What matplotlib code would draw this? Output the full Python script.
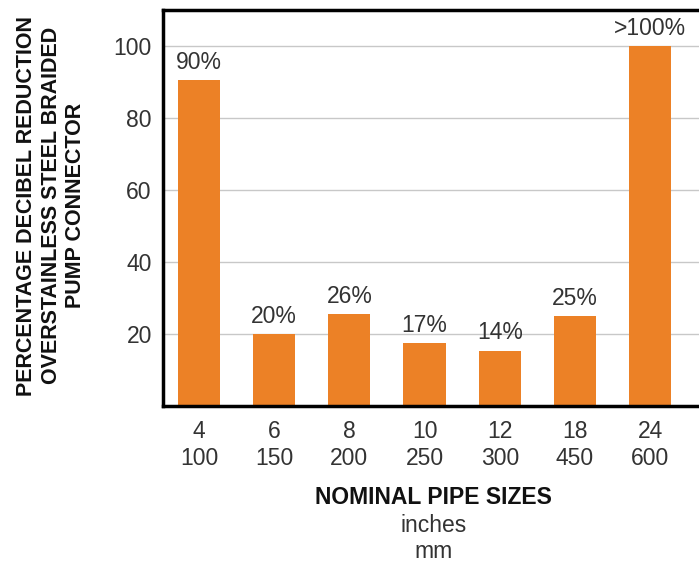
import matplotlib.pyplot as plt

sizes_in = ["4", "6", "8", "10", "12", "18", "24"]
sizes_mm = ["100", "150", "200", "250", "300", "450", "600"]
reduction = [90.5, 20, 25.5, 17.5, 15.3, 25, 100]
bar_labels = ["90%", "20%", "26%", "17%", "14%", "25%", ">100%"]

plt.rcParams['font.family'] = ['Liberation Sans', 'DejaVu Sans']
narrow = ['Liberation Sans Narrow', 'Liberation Sans', 'DejaVu Sans']

fig = plt.figure(figsize=(6.99, 5.67), dpi=100)
ax = fig.add_axes([0.233, 0.284, 0.767, 0.698])

x = list(range(len(sizes_in)))
ax.bar(x, reduction, width=0.56, color="#EC8126", zorder=2)

for xi, v, lab in zip(x, reduction, bar_labels):
    ax.text(xi, v + 1.8, lab, ha="center", va="bottom", fontsize=16.5, color="#333333")

ax.set_ylim(0, 110)
ax.set_xlim(-0.48, len(x) - 1 + 0.65)
ax.set_yticks([20, 40, 60, 80, 100])
ax.set_xticks(x)
ax.set_xticklabels([f"{a}\n{b}" for a, b in zip(sizes_in, sizes_mm)], linespacing=1.25)
ax.tick_params(axis="both", length=0, labelsize=16.5, colors="#333333", pad=10)
ax.tick_params(axis="y", pad=8)
ax.grid(axis="y", color="#c8c8c8", linewidth=1, zorder=0)

for s in ["left", "bottom", "top"]:
    ax.spines[s].set_linewidth(2.5)
    ax.spines[s].set_color("black")
ax.spines["right"].set_visible(False)

fig.text(0.073, 0.637, "PERCENTAGE DECIBEL REDUCTION\nOVERSTAINLESS STEEL BRAIDED\nPUMP CONNECTOR",
         rotation=90, ha="center", va="center", fontsize=15.5, fontweight="bold",
         family=narrow, color="#111111", linespacing=1.2)

fig.text(0.62, 0.123, "NOMINAL PIPE SIZES", ha="center", va="center", fontsize=16.5,
         fontweight="bold", family=narrow, color="#111111")
fig.text(0.62, 0.074, "inches", ha="center", va="center", fontsize=16.5, color="#333333")
fig.text(0.62, 0.028, "mm", ha="center", va="center", fontsize=16.5, color="#333333")

fig.savefig("out.png", dpi=100)
